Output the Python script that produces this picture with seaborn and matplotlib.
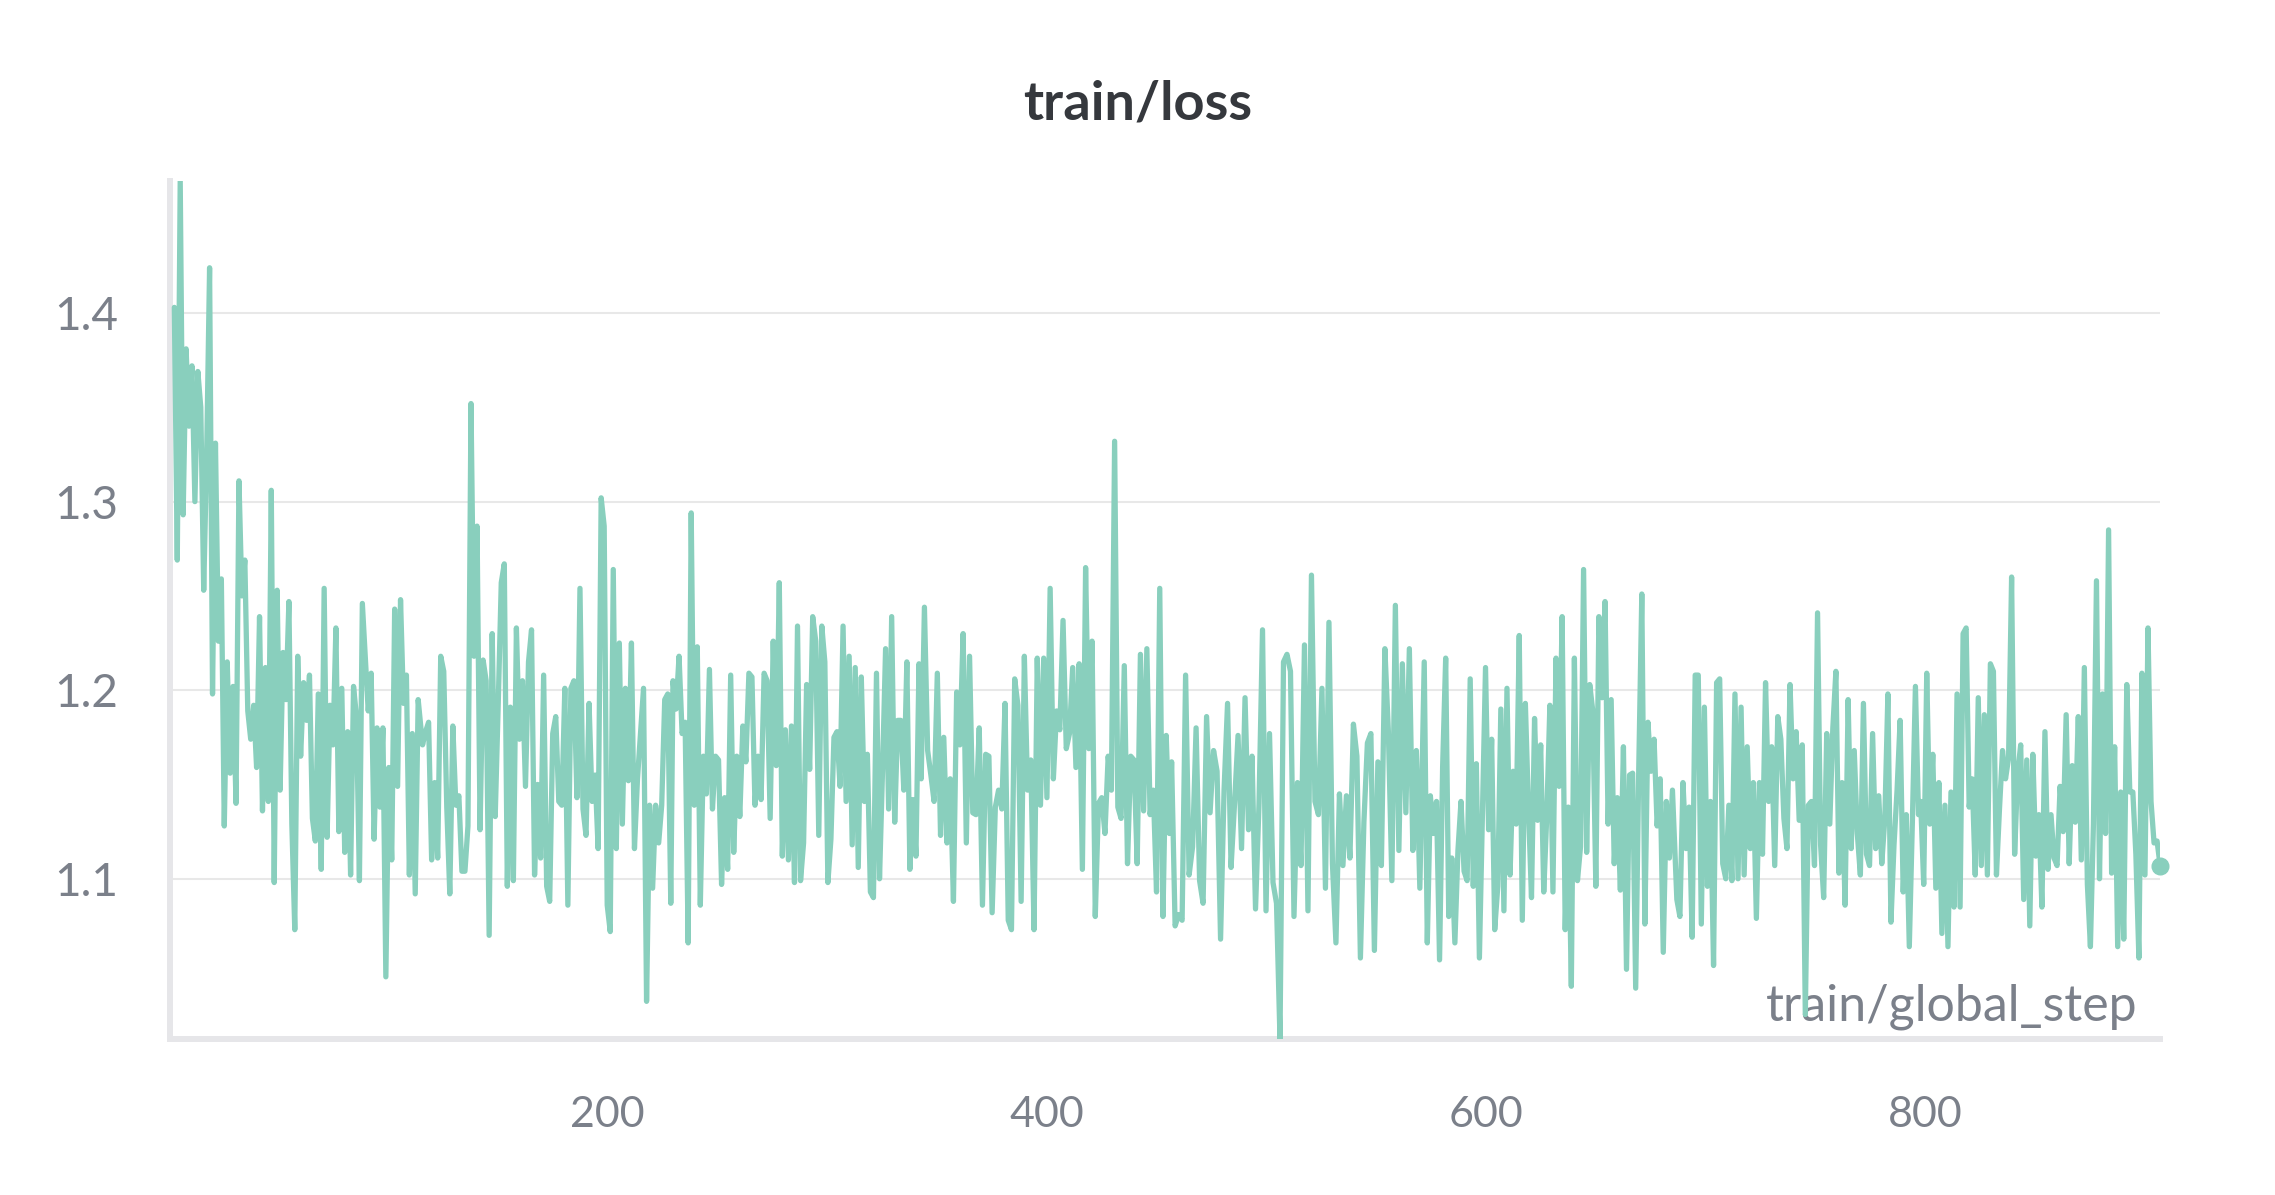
import numpy as np
import pandas as pd
import matplotlib
matplotlib.use("Agg")
import matplotlib.pyplot as plt
import seaborn as sns

# train/loss, one list per stretch of global steps
loss_seg1 = [1.403, 1.269, 1.47, 1.293, 1.381, 1.340, 1.372, 1.300, 1.369, 1.350, 1.253, 1.325, 1.424, 1.198,
             1.331, 1.226, 1.259, 1.128, 1.215, 1.156, 1.202, 1.140, 1.311, 1.250, 1.269, 1.189, 1.174, 1.192,
             1.159, 1.239, 1.136, 1.212, 1.141, 1.306, 1.098, 1.253, 1.147, 1.220, 1.195, 1.247, 1.129, 1.073,
             1.218, 1.165, 1.204, 1.184, 1.208, 1.132, 1.120, 1.198, 1.105, 1.254, 1.122, 1.192, 1.171, 1.233,
             1.125, 1.201, 1.114, 1.178, 1.102, 1.202, 1.186, 1.099, 1.246, 1.217, 1.189, 1.209, 1.121, 1.180,
             1.138, 1.180, 1.048, 1.159, 1.110, 1.243, 1.149, 1.248, 1.193, 1.208, 1.102, 1.177, 1.092, 1.195]
loss_seg2 = [1.171, 1.178, 1.183, 1.110, 1.151, 1.111, 1.218, 1.210, 1.138, 1.092, 1.181, 1.139, 1.144, 1.104,
             1.104, 1.128, 1.352, 1.218, 1.287, 1.126, 1.216, 1.205, 1.070, 1.230, 1.133, 1.193, 1.257, 1.267,
             1.096, 1.191, 1.099, 1.233, 1.174, 1.205, 1.149, 1.215, 1.232, 1.102, 1.150, 1.111, 1.208, 1.096,
             1.088, 1.177, 1.186, 1.141, 1.139, 1.201, 1.086, 1.201, 1.205, 1.143, 1.254, 1.137, 1.123, 1.193,
             1.141, 1.155, 1.116, 1.302, 1.287, 1.086, 1.072, 1.264, 1.116, 1.225, 1.129, 1.201, 1.152, 1.225,
             1.116, 1.153, 1.177, 1.201, 1.035, 1.139, 1.095, 1.139, 1.119, 1.139, 1.195, 1.198, 1.087]
loss_seg3 = [1.205, 1.190, 1.218, 1.177, 1.183, 1.066, 1.294, 1.139, 1.223, 1.086, 1.165, 1.145, 1.211, 1.137,
             1.165, 1.163, 1.097, 1.143, 1.105, 1.208, 1.114, 1.165, 1.133, 1.181, 1.162, 1.209, 1.207, 1.139,
             1.165, 1.142, 1.209, 1.205, 1.132, 1.226, 1.160, 1.257, 1.112, 1.179, 1.110, 1.181, 1.098, 1.234,
             1.099, 1.119, 1.203, 1.158, 1.239, 1.226, 1.123, 1.234, 1.215, 1.098, 1.121, 1.175, 1.178, 1.149,
             1.234, 1.141, 1.218, 1.118, 1.212, 1.106, 1.207, 1.141, 1.166, 1.093, 1.090, 1.209, 1.100, 1.158,
             1.222, 1.137, 1.239, 1.130, 1.184, 1.184, 1.147, 1.215, 1.105, 1.142, 1.112, 1.214]
loss_seg4 = [1.153, 1.244, 1.168, 1.155, 1.141, 1.209, 1.123, 1.175, 1.119, 1.153, 1.088, 1.199, 1.171, 1.230,
             1.119, 1.218, 1.135, 1.134, 1.180, 1.086, 1.166, 1.165, 1.082, 1.138, 1.147, 1.137, 1.193, 1.078,
             1.073, 1.206, 1.192, 1.088, 1.218, 1.147, 1.163, 1.073, 1.217, 1.139, 1.217, 1.143, 1.254, 1.153,
             1.189, 1.179, 1.237, 1.169, 1.177, 1.212, 1.159, 1.214, 1.105, 1.265, 1.169, 1.226, 1.080, 1.140,
             1.143, 1.124, 1.165, 1.147, 1.332, 1.138, 1.132, 1.213, 1.108, 1.165, 1.163, 1.108, 1.219, 1.136,
             1.222, 1.134, 1.147, 1.093, 1.254, 1.080, 1.176, 1.124]
loss_seg5 = [1.162, 1.075, 1.081, 1.078, 1.208, 1.102, 1.117, 1.180, 1.099, 1.087, 1.186, 1.135, 1.168, 1.157,
             1.068, 1.147, 1.193, 1.106, 1.140, 1.176, 1.116, 1.196, 1.126, 1.165, 1.084, 1.140, 1.232, 1.083,
             1.177, 1.098, 1.087, 1.015, 1.215, 1.219, 1.210, 1.080, 1.151, 1.107, 1.224, 1.083, 1.261, 1.141,
             1.134, 1.201, 1.095, 1.236, 1.108, 1.066, 1.145, 1.107, 1.144, 1.111, 1.182, 1.165, 1.058, 1.130,
             1.172, 1.177, 1.062, 1.162, 1.107, 1.222, 1.178, 1.099, 1.245, 1.115, 1.214, 1.135, 1.222, 1.115,
             1.168, 1.095]
loss_seg6 = [1.215, 1.066, 1.144, 1.124, 1.141, 1.057, 1.159, 1.217, 1.080, 1.111, 1.066, 1.115, 1.141, 1.104,
             1.099, 1.206, 1.096, 1.161, 1.058, 1.135, 1.212, 1.126, 1.174, 1.073, 1.096, 1.190, 1.083, 1.201,
             1.102, 1.157, 1.129, 1.229, 1.078, 1.193, 1.138, 1.090, 1.185, 1.131, 1.171, 1.093, 1.134, 1.192,
             1.093, 1.217, 1.149, 1.239, 1.073, 1.138, 1.043, 1.217, 1.099, 1.117, 1.264, 1.114, 1.203, 1.189,
             1.096, 1.239, 1.196, 1.247, 1.129, 1.195, 1.108, 1.143, 1.094, 1.170, 1.052, 1.155, 1.156, 1.042,
             1.158, 1.251, 1.076, 1.183, 1.157, 1.174, 1.128, 1.153, 1.061, 1.141, 1.111, 1.147]
loss_seg7 = [1.089, 1.080, 1.151, 1.116, 1.138, 1.069, 1.208, 1.208, 1.076, 1.191, 1.096, 1.141, 1.054, 1.204,
             1.206, 1.108, 1.100, 1.139, 1.099, 1.198, 1.100, 1.191, 1.102, 1.170, 1.116, 1.151, 1.079, 1.151,
             1.113, 1.204, 1.141, 1.170, 1.107, 1.186, 1.174, 1.132, 1.116, 1.203, 1.153, 1.178, 1.131, 1.171,
             1.028, 1.139, 1.141, 1.107, 1.241, 1.118, 1.090, 1.177, 1.129, 1.180, 1.210, 1.103, 1.151, 1.086,
             1.195, 1.116, 1.168, 1.124, 1.102, 1.193, 1.113, 1.107, 1.177, 1.116, 1.144, 1.108, 1.132, 1.198,
             1.077, 1.118, 1.147, 1.184, 1.093, 1.134, 1.064, 1.130, 1.202, 1.134]
loss_seg8 = [1.141, 1.097, 1.209, 1.129, 1.166, 1.095, 1.151, 1.071, 1.139, 1.064, 1.146, 1.085, 1.198, 1.085,
             1.230, 1.233, 1.138, 1.153, 1.102, 1.196, 1.107, 1.187, 1.102, 1.214, 1.210, 1.102, 1.137, 1.168,
             1.153, 1.164, 1.260, 1.113, 1.156, 1.171, 1.089, 1.163, 1.075, 1.166, 1.112, 1.134, 1.085, 1.178,
             1.105, 1.134, 1.111, 1.107, 1.149, 1.125, 1.187, 1.108, 1.160, 1.130, 1.186, 1.110, 1.212, 1.097,
             1.064, 1.129, 1.258, 1.100, 1.198, 1.124, 1.285, 1.103, 1.170, 1.064, 1.146, 1.068, 1.203, 1.146,
             1.146, 1.113, 1.058, 1.209, 1.102, 1.233, 1.141, 1.119, 1.120, 1.107]

# first and last global step covered by each stretch
seg_first_step = [3, 116, 230, 343, 457, 572, 687, 798]
seg_last_step = [114, 229, 342, 456, 570, 685, 797, 907]

x_ticks = [200, 400, 600, 800]
y_ticks = [1.1, 1.2, 1.3, 1.4]

segments = [loss_seg1, loss_seg2, loss_seg3, loss_seg4, loss_seg5, loss_seg6, loss_seg7, loss_seg8]
steps, loss = [], []
for seg, s0, s1 in zip(segments, seg_first_step, seg_last_step):
    steps.extend(np.linspace(s0, s1, len(seg)))
    loss.extend(seg)
df = pd.DataFrame({"train/global_step": steps, "train/loss": loss})

sns.set_theme(style="white")
plt.rcParams["font.family"] = ["Lato", "DejaVu Sans"]

line_color = "#89cfbd"
axis_color = "#e6e6e9"
text_color = "#7b808a"

fig = plt.figure(figsize=(22.75, 11.95), dpi=100)
ax = fig.add_axes([0.0747, 0.1305, 0.8748, 0.718])

sns.lineplot(data=df, x="train/global_step", y="train/loss", color=line_color,
             linewidth=3.8, ax=ax, zorder=3)
ax.plot(df["train/global_step"].iloc[-1], df["train/loss"].iloc[-1], "o",
        color=line_color, markersize=12, zorder=4, clip_on=False)

ax.set_xlim(1, df["train/global_step"].max())
ax.set_ylim(df["train/loss"].min(), df["train/loss"].max())
ax.set_xticks(x_ticks)
ax.set_yticks(y_ticks)
ax.set_yticklabels([f"{v:.1f}" for v in y_ticks])

ax.grid(axis="y", color="#e8e8e8", linewidth=1.5)
ax.grid(axis="x", visible=False)
for side in ["top", "right"]:
    ax.spines[side].set_visible(False)
for side in ["left", "bottom"]:
    ax.spines[side].set_color(axis_color)
    ax.spines[side].set_linewidth(4.3)
ax.tick_params(axis="both", direction="inout", length=30, width=3, color=axis_color,
               labelcolor=text_color)
ax.tick_params(axis="x", labelsize=31, pad=26)
ax.tick_params(axis="y", labelsize=33, pad=22)

ax.set_xlabel("")
ax.set_ylabel("")
ax.text(0.9884, 0.022, "train/global_step", transform=ax.transAxes, ha="right",
        va="baseline", fontsize=36, color=text_color, zorder=1)

fig.text(0.5, 0.8996, "train/loss", ha="center", va="baseline", fontsize=39,
         fontweight="bold", color="#35383d")

fig.savefig("out.png", dpi=100, facecolor="white")
